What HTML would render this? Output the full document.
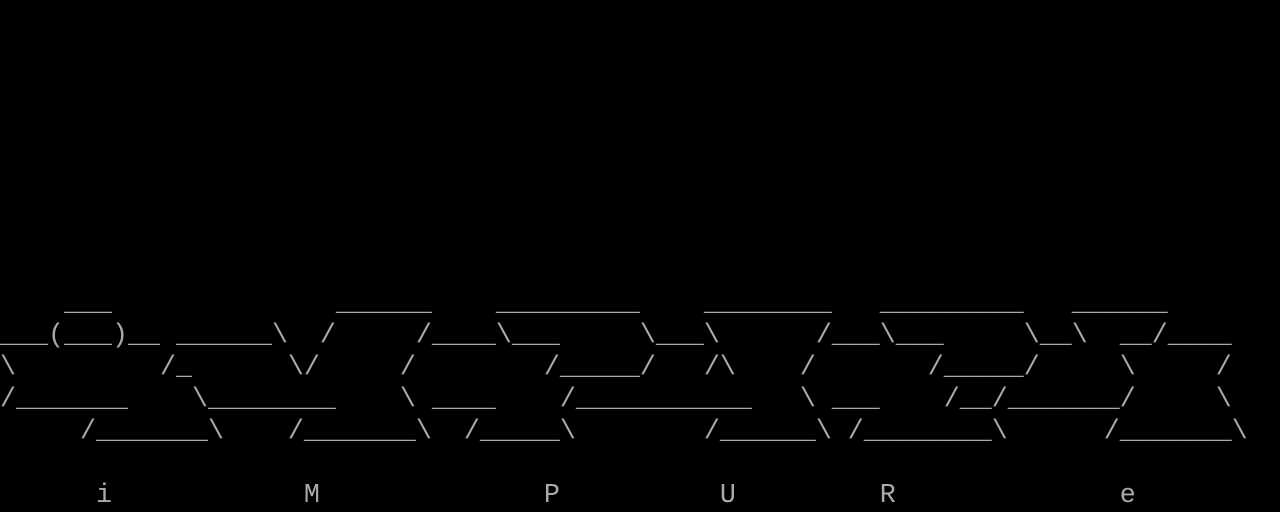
<!DOCTYPE html>
<html><head><meta charset="utf-8"><style>
html,body{margin:0;padding:0;background:#000;width:1280px;height:512px;overflow:hidden}
pre{position:absolute;left:0;top:288px;margin:0;font-family:"Liberation Mono",monospace;font-size:26.667px;line-height:32px;color:#aaaaaa;white-space:pre}
</style></head><body>
<pre>    ___              ______    _________    ________   _________   ______
___(___)__ ______\  /     /____\___     \___\      /___\___     \__\  __/____
\         /_      \/     /        /_____/   /\    /       /_____/     \     /
/_______    \________    \ ____    /___________   \ ___    /__/_______/     \
     /_______\    /_______\  /_____\        /______\ /________\      /_______\

      i            M              P          U         R              e</pre>
</body></html>
